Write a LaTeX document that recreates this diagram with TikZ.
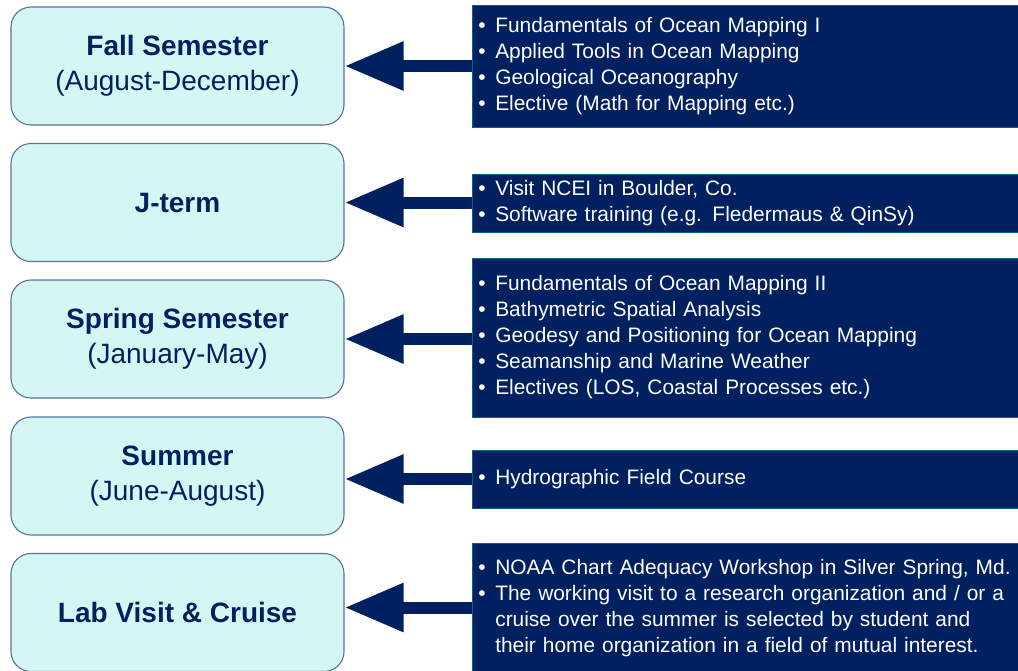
\documentclass[tikz,border=0pt]{standalone}
\usepackage{fontspec}
\setmainfont{Liberation Sans}
\usetikzlibrary{arrows.meta}
\definecolor{navy}{HTML}{002060}
\definecolor{paleaqua}{HTML}{D5F7F4}
\definecolor{slateedge}{HTML}{5A72A0}
\newcommand{\itm}{\makebox[17pt][l]{\textbullet}}
\newcommand{\cont}{\hspace*{17pt}}
\tikzset{
	term/.style={draw=slateedge, line width=1.1pt, fill=paleaqua, rounded corners=20pt,
		minimum width=333pt, minimum height=118pt, align=center, text=navy,
		font=\fontsize{28}{35}\selectfont},
	course/.style={fill=navy, draw=navy!70!cyan, line width=0.6pt, text=white, anchor=west,
		text width=550pt, inner xsep=6pt, align=left,
		font=\fontsize{20.9}{26}\selectfont},
	link/.style={draw=navy, line width=12pt, -{Triangle[length=59pt,width=46pt]}}
}
\begin{document}
\begin{tikzpicture}[x=1pt,y=1pt]
		\clip (0,0) rectangle (1018,-670);
		\fill[white] (0,0) rectangle (1018,-670);
		% semesters
		\node[term] (fall) at (177.5,-66) {\textbf{Fall Semester}\\(August-December)};
		\node[term] (jterm) at (177.5,-202.5) {\textbf{J-term}};
		\node[term] (spring) at (177.5,-339) {\textbf{Spring Semester}\\(January-May)};
		\node[term] (summer) at (177.5,-476) {\textbf{Summer}\\(June-August)};
		\node[term] (lab) at (177.5,-612.5) {\textbf{Lab Visit \& Cruise}};
		% courses
		\node[course, minimum height=122pt] (fallc) at (472,-66) {\itm Fundamentals of Ocean Mapping I\\\itm Applied Tools in Ocean Mapping\\\itm Geological Oceanography\\\itm Elective (Math for Mapping etc.)};
		\node[course, minimum height=58pt] (jtermc) at (472,-203) {\itm Visit NCEI in Boulder, Co.\\\itm Software training (e.g. Fledermaus \& QinSy)};
		\node[course, minimum height=159pt] (springc) at (472,-337.5) {\itm Fundamentals of Ocean Mapping II\\\itm Bathymetric Spatial Analysis\\\itm Geodesy and Positioning for Ocean Mapping\\\itm Seamanship and Marine Weather\\\itm Electives (LOS, Coastal Processes etc.)};
		\node[course, minimum height=58pt] (summerc) at (472,-479) {\itm Hydrographic Field Course};
		\node[course, minimum height=130pt] (labc) at (472,-608) {\itm NOAA Chart Adequacy Workshop in Silver Spring, Md.\\\itm The working visit to a research organization and / or a\\\cont cruise over the summer is selected by student and\\\cont their home organization in a field of mutual interest.};
		% arrows
		\draw[link] (fallc.west |- fall.east) -- (fall.east);
		\draw[link] (jtermc.west |- jterm.east) -- (jterm.east);
		\draw[link] (springc.west |- spring.east) -- (spring.east);
		\draw[link] ([yshift=-3pt]summerc.west |- summer.east) -- ([yshift=-3pt]summer.east);
		\draw[link] ([yshift=5pt]labc.west |- lab.east) -- ([yshift=5pt]lab.east);
	\end{tikzpicture}
\end{document}
